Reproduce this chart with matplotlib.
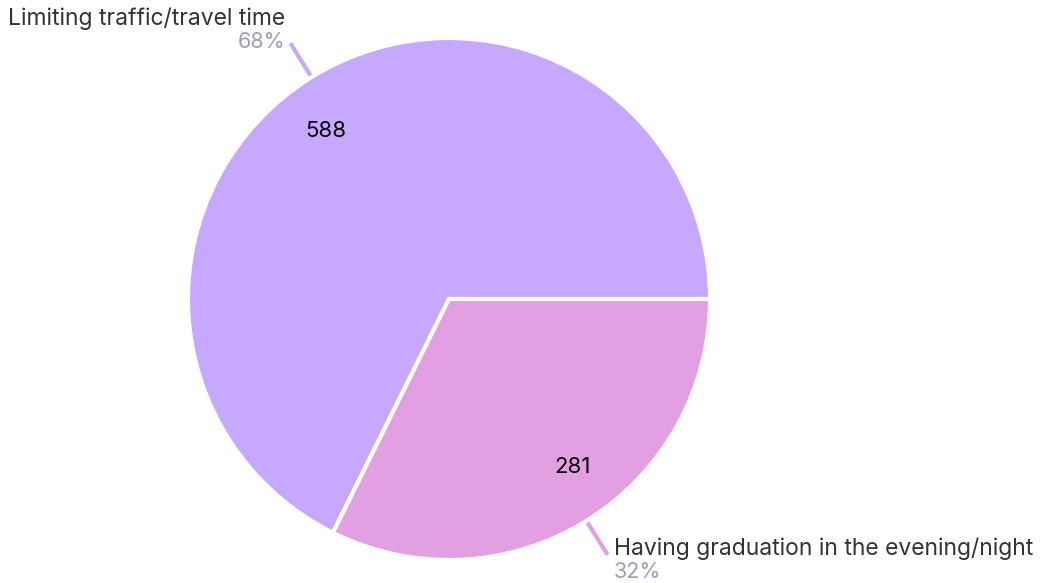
import matplotlib
matplotlib.use("Agg")
import matplotlib.pyplot as plt
import numpy as np

categories = ["Limiting traffic/travel time", "Having graduation in the evening/night"]
values = [588, 281]
colors = ["#C6A8FF", "#E29FE1"]

W, H = 1045, 583
fig = plt.figure(figsize=(W / 100, H / 100), dpi=100)
ax = fig.add_axes([0, 0, 1, 1])
plt.rcParams['font.family'] = ['Inter', 'DejaVu Sans']

cx, cy, r = 449, H - 299, 261

wedges, _ = ax.pie(values, colors=colors, startangle=0, counterclock=True,
                   center=(cx, cy), radius=r, frame=True,
                   wedgeprops=dict(edgecolor="white", linewidth=3))
ax.set_xlim(0, W)
ax.set_ylim(0, H)
ax.set_aspect("equal")
ax.axis("off")

total = sum(values)
for w, v, cat, col in zip(wedges, values, categories, colors):
    mid = np.deg2rad((w.theta1 + w.theta2) / 2)
    lab = mid + np.deg2rad(4.5)
    ax.text(cx + 0.8 * r * np.cos(lab), cy + 0.8 * r * np.sin(lab), f"{v}",
            ha="center", va="center", fontsize=16, color="black")
    c, s = np.cos(mid), np.sin(mid)
    x0, y0 = cx + (r + 2) * c, cy + (r + 2) * s
    x1, y1 = cx + (r + 40) * c, cy + (r + 40) * s
    ax.plot([x0, x1], [y0, y1], color=col, lw=3, solid_capstyle="butt")
    pct = f"{v / total * 100:.0f}%"
    if c < 0:
        tx, ha = x1 - 5, "right"
        ly, py = y1 + 24, y1 + 1
    else:
        tx, ha = x1 + 6, "left"
        ly, py = y1 + 6, y1 - 17
    ax.text(tx, ly, cat, ha=ha, va="center", fontsize=16.5, color="#333333")
    ax.text(tx, py, pct, ha=ha, va="center", fontsize=15.5, color="#9B9DB5")

fig.savefig("out.png", dpi=100)
